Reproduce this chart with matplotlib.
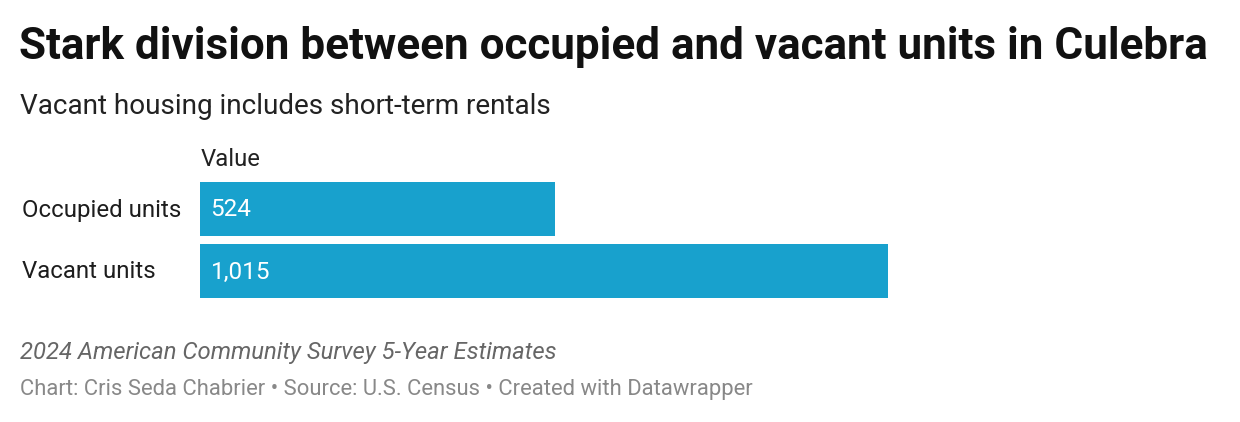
import matplotlib
matplotlib.use("Agg")
import matplotlib.pyplot as plt
from matplotlib import transforms

categories = ["Occupied units", "Vacant units"]
values = [524, 1015]
value_labels = ["524", "1,015"]

title = "Stark division between occupied and vacant units in Culebra"
subtitle = "Vacant housing includes short-term rentals"
column_header = "Value"
note = "2024 American Community Survey 5-Year Estimates"
source = "Chart: Cris Seda Chabrier \u2022 Source: U.S. Census \u2022 Created with Datawrapper"

W, H = 1240, 422
DPI = 100
plt.rcParams['font.family'] = ['Roboto', 'DejaVu Sans']

fig = plt.figure(figsize=(W / DPI, H / DPI), dpi=DPI)
fig.patch.set_facecolor("white")

def fx(px):
    return px / W

def fy(py):
    return 1 - py / H

bar_color = "#18a1cd"
bar_h = 54 / 62

# axes: bars from y=182 to y=298 px, x from 200 to 888 px
ax = fig.add_axes([fx(200), fy(298), fx(888) - fx(200), (298 - 182) / H])
ax.barh(range(len(values)), values, height=bar_h, color=bar_color, zorder=2)
ax.set_xlim(0, max(values))
ax.set_ylim(len(values) - 1 + bar_h / 2, -bar_h / 2)
ax.axis("off")

# label transforms: x in figure pixels, y in data
base = transforms.blended_transform_factory(fig.transFigure, ax.transData)
cat_tr = transforms.offset_copy(base, fig=fig, x=0, y=-7.5, units="dots")
val_base = transforms.blended_transform_factory(ax.transData, ax.transData)
val_tr = transforms.offset_copy(val_base, fig=fig, x=10.5, y=-7.5, units="dots")

for i, (c, v, lab) in enumerate(zip(categories, values, value_labels)):
    ax.text(fx(22), i, c, transform=cat_tr, ha="left", va="baseline",
            fontsize=17.3, color="#1d1d1d")
    ax.text(0, i, lab, transform=val_tr, ha="left", va="baseline",
            fontsize=17.5, color="white")

fig.text(fx(19), fy(59.5), title, fontsize=31.65, fontweight="bold",
         color="#111111", ha="left", va="baseline")
fig.text(fx(20), fy(114), subtitle, fontsize=20.1, color="#222222",
         ha="left", va="baseline")
fig.text(fx(200.5), fy(166), column_header, fontsize=17.2, color="#222222",
         ha="left", va="baseline")
fig.text(fx(20), fy(359), note, fontsize=17.2, style="italic", color="#666666",
         ha="left", va="baseline")
fig.text(fx(20), fy(395), source, fontsize=15.8, color="#888888",
         ha="left", va="baseline")

fig.savefig("out.png", dpi=DPI, facecolor="white")
